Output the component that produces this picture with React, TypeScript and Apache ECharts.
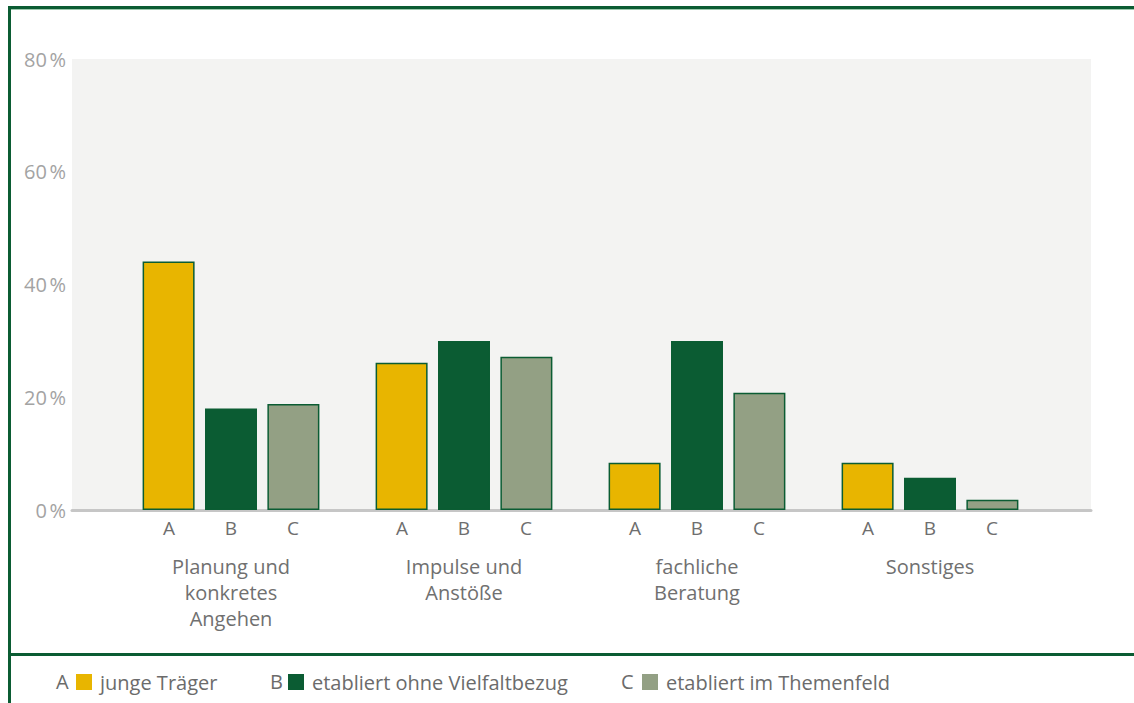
import React, { useEffect, useRef } from "react";
import * as echarts from "echarts";

const categories = ["Planung und\nkonkretes\nAngehen", "Impulse und\nAnstöße", "fachliche\nBeratung", "Sonstiges"];
const seriesNames = ["junge Träger", "etabliert ohne Vielfaltbezug", "etabliert im Themenfeld"];
const seriesLetters = ["A", "B", "C"];
const valuesA = [44.1, 26.1, 8.4, 8.4];
const valuesB = [18.0, 30.0, 30.0, 5.7];
const valuesC = [18.8, 27.2, 20.8, 1.8];
const yTicks = [0, 20, 40, 60, 80];
const colors = ["#e8b500", "#0b5c33", "#93a084"];

const FONT = "'Open Sans', Lato, sans-serif";
const DARK = "#0b5c33";

export default function App() {
  const ref = useRef<HTMLDivElement>(null);
  useEffect(() => {
    if (!ref.current) return;
    const chart = echarts.init(ref.current, null, { renderer: "svg" });
    const allValues = [valuesA, valuesB, valuesC];
    const legendLeft = [71, 283, 637];
    const letterLeft = [56, 270, 621];
    const option: any = {
      animation: false,
      backgroundColor: "#ffffff",
      textStyle: { fontFamily: FONT },
      grid: [
        { left: 72, top: 59, width: 1019, height: 451, show: true, backgroundColor: "#f3f3f2", borderWidth: 0 },
        { left: 114.5, top: 59, width: 932, height: 451, show: false },
      ],
      xAxis: [
        {
          gridIndex: 0,
          type: "value",
          min: 0,
          max: 1,
          axisLine: { show: true, onZero: false, lineStyle: { color: "#c6c6c6", width: 3 } },
          axisTick: { show: false },
          axisLabel: { show: false },
          splitLine: { show: false },
        },
        {
          gridIndex: 1,
          type: "category",
          data: categories,
          axisLine: { show: false },
          axisTick: { show: false },
          axisLabel: {
            interval: 0,
            margin: 6,
            formatter: (v: string) => {
              const letters = seriesLetters.map((l) => `{l|${l}}`).join("");
              const lines = v.split("\n").map((s) => `{g|${s}}`).join("\n");
              return `${letters}\n{sp| }\n${lines}`;
            },
            rich: {
              l: { width: 62, align: "center", fontSize: 19, lineHeight: 24, color: "#6e6e6e", fontFamily: FONT },
              sp: { fontSize: 1, lineHeight: 13 },
              g: { fontSize: 20, lineHeight: 26, color: "#707070", fontFamily: FONT },
            },
          },
        },
      ],
      yAxis: [
        {
          gridIndex: 0,
          type: "value",
          min: 0,
          max: 80,
          interval: 20,
          axisLine: { show: false },
          axisTick: { show: false },
          splitLine: { show: false },
          axisLabel: {
            margin: 6,
            color: "#a3a3a3",
            fontSize: 20,
            fontFamily: FONT,
            formatter: (v: number) => (yTicks.includes(v) ? `${v}\u202f%` : ""),
          },
        },
        {
          gridIndex: 1,
          type: "value",
          min: 0,
          max: 80,
          show: false,
        },
      ],
      legend: seriesNames.map((n, i) => ({
        data: [n],
        left: legendLeft[i],
        top: 667,
        itemWidth: 16,
        itemHeight: 16,
        icon: "rect",
        itemStyle: { borderWidth: 0 },
        textStyle: { fontSize: 20, color: "#6b6b6b", fontFamily: FONT, padding: [0, 0, 0, 3] },
        selectedMode: false,
      })),
      series: seriesNames.map((n, i) => ({
        name: n,
        type: "bar",
        xAxisIndex: 1,
        yAxisIndex: 1,
        data: allValues[i],
        barWidth: 52,
        barGap: "20%",
        itemStyle: { color: colors[i], borderColor: DARK, borderWidth: 1.5 },
      })),
      graphic: [
        { type: "rect", shape: { x: 8, y: 6, width: 3, height: 697 }, style: { fill: DARK }, z: 10 },
        { type: "rect", shape: { x: 8, y: 6, width: 1126, height: 3 }, style: { fill: DARK }, z: 10 },
        { type: "rect", shape: { x: 11, y: 9, width: 1123, height: 1 }, style: { fill: "#9cc9ad" }, z: 10 },
        { type: "rect", shape: { x: 8, y: 653, width: 1126, height: 3 }, style: { fill: DARK }, z: 10 },
        ...seriesLetters.map((l, i) => ({
          type: "text",
          x: letterLeft[i],
          y: 681,
          style: { text: l, fontSize: 20, fill: "#6b6b6b", fontFamily: FONT, verticalAlign: "middle" },
          z: 10,
        })),
      ],
    };
    chart.setOption(option);
    return () => chart.dispose();
  }, []);
  return <div ref={ref} style={{ position: "fixed", left: 0, top: 0, width: 1134, height: 703 }} />;
}
